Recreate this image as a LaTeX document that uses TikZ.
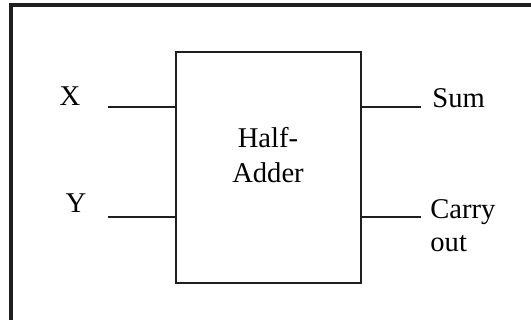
\documentclass[tikz,border=0pt]{standalone}
\usepackage{fontspec}
\setmainfont{Liberation Serif}

\begin{document}
\begin{tikzpicture}[x=0.5pt,y=-0.5pt,
    wire/.style={line width=1.2pt,black!88},
    lbl/.style={font=\fontsize{14.3}{16.5}\selectfont,inner sep=0pt,align=left}]
        \useasboundingbox (0,0) rectangle (531,320);
        \draw[line width=1.7pt,black!88] (11,330)--(11,5)--(540,5);
        \node[draw=black!88,line width=1.2pt,minimum width=92.5pt,minimum height=115.5pt,inner sep=0pt] (ha) at (268.5,167.5) {};
        \node[lbl,align=center,font=\fontsize{14.3}{17.5}\selectfont] (hatext) at (268,155) {Half-\\Adder};
        % inputs
        \coordinate (xin) at (108,107);
        \coordinate (yin) at (108,217);
        \draw[wire] (xin)--(ha.west |- xin);
        \draw[wire] (yin)--(ha.west |- yin);
        \node[lbl,anchor=base] (x) at (70,106) {X};
        \node[lbl,anchor=base] (y) at (76,213) {Y};
        % outputs
        \coordinate (sout) at (421,107);
        \coordinate (cout) at (421,217);
        \draw[wire] (ha.east |- sout)--(sout);
        \draw[wire] (ha.east |- cout)--(cout);
        \node[lbl,anchor=base west] (sum) at (432,108) {Sum};
        \node[lbl,anchor=west] (carry) at (430,226) {Carry\\out};
      \end{tikzpicture}
\end{document}
